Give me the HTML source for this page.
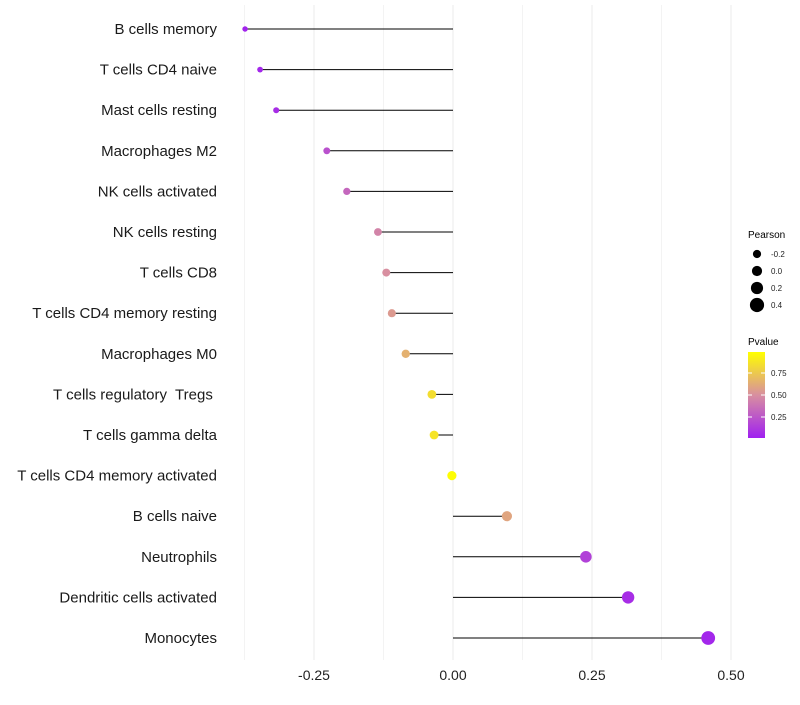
<!DOCTYPE html>
<html><head><meta charset="utf-8"><style>
body{margin:0;background:#fff;font-family:"Liberation Sans",sans-serif}
#ylabels text{white-space:pre}
</style></head><body>
<svg id="chart" width="800" height="700" xmlns="http://www.w3.org/2000/svg" font-family="Liberation Sans, sans-serif">
<defs><linearGradient id="pg" x1="0" y1="1" x2="0" y2="0">
<stop offset="0" stop-color="#a020f0"/><stop offset="0.5" stop-color="#d88fa0"/><stop offset="1" stop-color="#ffff00"/></linearGradient></defs>
<g id="grid"></g>
<g id="marks"></g>
<g id="ylabels"></g>
<g id="xlabels"></g>
<g>
<text x="748" y="238" font-size="10">Pearson</text>
<g id="sizeleg"></g>
</g>
<g>
<text x="748" y="345" font-size="10">Pvalue</text>
<rect x="748" y="352" width="17" height="86" fill="url(#pg)"/>
<g id="colleg"></g>
</g>
</svg>
<script>
const categories=["B cells memory","T cells CD4 naive","Mast cells resting","Macrophages M2","NK cells activated","NK cells resting","T cells CD8","T cells CD4 memory resting","Macrophages M0","T cells regulatory  Tregs ","T cells gamma delta","T cells CD4 memory activated","B cells naive","Neutrophils","Dendritic cells activated","Monocytes"];
const pearson=[-0.374,-0.347,-0.318,-0.227,-0.191,-0.135,-0.120,-0.110,-0.085,-0.038,-0.034,-0.002,0.097,0.239,0.315,0.459];
const pvalue=[0.02,0.03,0.06,0.22,0.32,0.45,0.5,0.55,0.65,0.85,0.88,0.99,0.6,0.15,0.06,0.03];
const xTicks=[-0.25,0,0.25,0.5];
const xTickLabels=["-0.25","0.00","0.25","0.50"];
const sizeLegend=[-0.2,0.0,0.2,0.4];
const colorLegend=[0.25,0.5,0.75];
const NS="http://www.w3.org/2000/svg";
const x=v=>453+v*556;
const y=i=>29+i*40.6;
const r=v=>4.6+5*v;
const cb=p=>439-p*88;
function col(p){const s=[[160,32,240],[216,143,160],[255,255,0]];let t=Math.max(0,Math.min(1,p));let a,b,f;if(t<0.5){a=s[0];b=s[1];f=t/0.5}else{a=s[1];b=s[2];f=(t-0.5)/0.5}return `rgb(${a.map((c,k)=>Math.round(c+(b[k]-c)*f)).join(',')})`}
function mk(tag,attrs,parent){const e=document.createElementNS(NS,tag);for(const k in attrs)e.setAttribute(k,attrs[k]);document.getElementById(parent).appendChild(e);return e}
const grid=[-0.375,-0.25,-0.125,0,0.125,0.25,0.375,0.5];
grid.forEach(g=>{const l=mk('line',{x1:x(g),x2:x(g),y1:5,y2:660,stroke:'#ebebeb','stroke-width':xTicks.includes(g)?1:0.6},'grid');

});
xTicks.forEach((t,i)=>{const e=mk('text',{x:x(t),y:680,'font-size':14,'text-anchor':'middle',fill:'#222'},'xlabels');e.textContent=xTickLabels[i];

});
categories.forEach((c,i)=>{
const t=mk('text',{x:217,y:y(i)+5,'font-size':15,'text-anchor':'end',fill:'#1a1a1a','xml:space':'preserve'},'ylabels');t.textContent=c;


const l=mk('line',{x1:x(0),x2:x(pearson[i]),y1:y(i),y2:y(i),stroke:'#000','stroke-width':1},'marks');


const d=mk('circle',{cx:x(pearson[i]),cy:y(i),r:r(pearson[i]),fill:col(pvalue[i])},'marks');


});
sizeLegend.forEach((s,i)=>{const cy=254+i*17;
const c=mk('circle',{cx:757,cy:cy,r:r(s)+0.5,fill:'#000'},'sizeleg');


const t=mk('text',{x:771,y:cy+3,'font-size':8,fill:'#222'},'sizeleg');t.textContent=s.toFixed(1);

});
colorLegend.forEach(v=>{const yy=cb(v);
const l=mk('line',{x1:748,x2:752,y1:yy,y2:yy,stroke:'#fff'},'colleg');


const l2=mk('line',{x1:761,x2:765,y1:yy,y2:yy,stroke:'#fff'},'colleg');


const t=mk('text',{x:771,y:yy+3,'font-size':8,fill:'#222'},'colleg');t.textContent=v.toFixed(2);

});
</script>
</body></html>
